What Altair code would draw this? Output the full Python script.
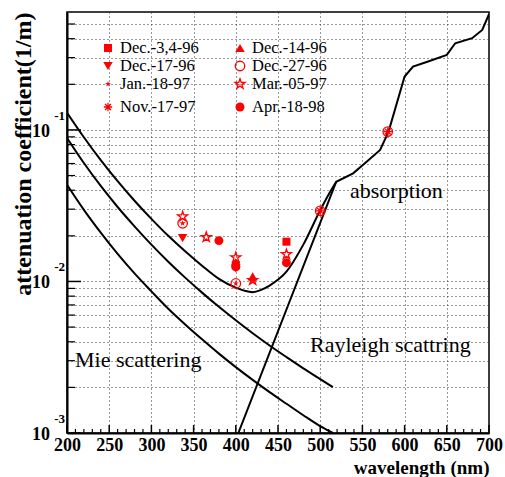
import altair as alt
import pandas as pd

# ---- curves (wavelength in nm, attenuation coefficient in 1/m) ----
wl_scat = [200, 220, 240, 260, 280, 300, 320, 340, 360, 380, 400, 420, 440, 460, 480, 500, 515]
rayleigh = [0.0886, 0.0605, 0.0427, 0.0310, 0.0231, 0.0175, 0.0135, 0.0106, 0.00844, 0.00680,
            0.00554, 0.00455, 0.00378, 0.00317, 0.00267, 0.00227, 0.00201]
mie = [0.0435, 0.0297, 0.0210, 0.0152, 0.0113, 0.0086, 0.0066, 0.0052, 0.00415, 0.00334,
       0.00272, 0.00224, 0.00186, 0.00156, 0.00131, 0.00111, 0.00100]

wl_total = [200, 220, 240, 260, 280, 300, 320, 340, 360, 380, 400, 410, 420, 430, 440, 460,
            480, 500, 510, 519]
total = [0.130, 0.0895, 0.0632, 0.0459, 0.0341, 0.0259, 0.0200, 0.0158, 0.0127, 0.0104,
         0.0091, 0.0087, 0.0085, 0.0088, 0.0094, 0.0116, 0.0175, 0.0295, 0.0375, 0.0455]

wl_abs = [403, 519, 539, 555, 571, 581, 600, 610, 627, 650, 660, 680, 692, 700]
absorption = [0.0010, 0.0455, 0.0517, 0.0617, 0.0738, 0.0975, 0.225, 0.262, 0.282, 0.313,
              0.373, 0.403, 0.457, 0.58]

# ---- measurements ----
dates = ["Dec.-3,4-96", "Dec.-14-96", "Dec.-17-96", "Dec.-27-96",
         "Jan.-18-97", "Mar.-05-97", "Nov.-17-97", "Apr.-18-98"]
dec0304_wl = [400, 460]
dec0304_k = [0.0128, 0.0183]
dec14_wl = [400, 420]
dec14_k = [0.0133, 0.0108]
dec17_wl = [337, 400]
dec17_k = [0.0193, 0.0122]
dec27_wl = [337, 400, 500, 580]
dec27_k = [0.0242, 0.0097, 0.0292, 0.0975]
jan18_wl = [337, 400, 420]
jan18_k = [0.0242, 0.0097, 0.0102]
mar05_wl = [337, 365, 400, 420, 460]
mar05_k = [0.0268, 0.0196, 0.0144, 0.0102, 0.0151]
nov17_wl = [500, 580]
nov17_k = [0.0292, 0.0975]
apr18_wl = [380, 400, 460]
apr18_k = [0.0186, 0.0125, 0.0133]

# ---- text ----
x_tick_labels = [200, 250, 300, 350, 400, 450, 500, 550, 600, 650, 700]
y_decades = [0.001, 0.01, 0.1]
y_exponents = ["-3", "-2", "-1"]
ann_text = ["absorption", "Rayleigh scattring", "Mie scattering"]
ann_wl = [535.3, 487.9, 209.5]
ann_k = [0.0356, 0.00343, 0.00273]

# ---- styling ----
RED = "#ff0000"
SERIF = "'Liberation Serif', 'Times New Roman', Times, serif"
STAR = ("M0,-1L0.2245,-0.309L0.9511,-0.309L0.3633,0.118L0.5878,0.809L0,0.382"
        "L-0.5878,0.809L-0.3633,0.118L-0.9511,-0.309L-0.2245,-0.309Z")
ASTER = "M-1,0L1,0M0,-1L0,1M-0.71,-0.71L0.71,0.71M-0.71,0.71L0.71,-0.71"
style = {
    "Dec.-3,4-96": ("square", True, 64),
    "Dec.-14-96": ("triangle-up", True, 90),
    "Dec.-17-96": ("triangle-down", True, 90),
    "Dec.-27-96": ("circle", False, 90),
    "Jan.-18-97": (STAR, True, 40),
    "Mar.-05-97": (STAR, False, 110),
    "Nov.-17-97": (ASTER, False, 70),
    "Apr.-18-98": ("circle", True, 80),
}
series = {
    "Dec.-3,4-96": (dec0304_wl, dec0304_k),
    "Dec.-14-96": (dec14_wl, dec14_k),
    "Dec.-17-96": (dec17_wl, dec17_k),
    "Dec.-27-96": (dec27_wl, dec27_k),
    "Jan.-18-97": (jan18_wl, jan18_k),
    "Mar.-05-97": (mar05_wl, mar05_k),
    "Nov.-17-97": (nov17_wl, nov17_k),
    "Apr.-18-98": (apr18_wl, apr18_k),
}

W, H = 422, 421

yt_major = y_decades
yt_minor = [m * 10 ** e for e in (-3, -2, -1) for m in range(2, 10) if m * 10 ** e < 0.59]
xt_major = list(range(200, 701, 50))
xt_minor = [v for v in range(200, 701, 10) if v % 50]

xscale = alt.Scale(domain=[200, 700], zero=False, nice=False)
yscale = alt.Scale(type="log", domain=[0.001, 0.6], nice=False)

xaxis = alt.Axis(values=x_tick_labels, format="d", labelFont=SERIF, labelFontWeight="bold",
                 labelFontSize=18, labelColor="black", labelPadding=3, tickSize=0,
                 labelOverlap=False, labelFlush=False,
                 domainColor="black", domainWidth=2, grid=True, gridColor="#333",
                 gridDash=[1, 3], gridWidth=1,
                 title="wavelength (nm)", titleFont=SERIF, titleFontWeight="bold",
                 titleFontSize=19, titleColor="black", titleX=W, titleY=40,
                 titleAlign="right", titleBaseline="alphabetic")
yaxis = alt.Axis(values=yt_major + yt_minor, labels=False, ticks=False,
                 domainColor="black", domainWidth=2, grid=True, gridColor="#333",
                 gridDash=[1, 3], gridWidth=1,
                 title="attenuation coefficient(1/m)", titleFont=SERIF,
                 titleFontWeight="bold", titleFontSize=24, titleColor="black",
                 titleAngle=270, titleX=-44, titleY=0, titleAlign="right",
                 titleBaseline="middle")

X = lambda f: alt.X(f, type="quantitative", scale=xscale, axis=xaxis)
Y = lambda f: alt.Y(f, type="quantitative", scale=yscale, axis=yaxis)


def curve(wl, k, interp):
    df = pd.DataFrame({"wl": wl, "k": k})
    return alt.Chart(df).mark_line(color="black", strokeWidth=2, interpolate=interp,
                                   clip=True).encode(x=X("wl"), y=Y("k"))


layers = []

# inner tick marks
layers.append(alt.Chart(pd.DataFrame({"t": yt_major})).mark_rule(color="black", strokeWidth=1.5)
              .encode(y=Y("t"), x=alt.value(0), x2=alt.value(14)))
layers.append(alt.Chart(pd.DataFrame({"t": yt_minor})).mark_rule(color="black", strokeWidth=1.2)
              .encode(y=Y("t"), x=alt.value(0), x2=alt.value(8)))
layers.append(alt.Chart(pd.DataFrame({"t": xt_major})).mark_rule(color="black", strokeWidth=1.5)
              .encode(x=X("t"), y=alt.value(H), y2=alt.value(H - 8)))
layers.append(alt.Chart(pd.DataFrame({"t": xt_minor})).mark_rule(color="black", strokeWidth=1.2)
              .encode(x=X("t"), y=alt.value(H), y2=alt.value(H - 4)))

# model curves
layers.append(curve(wl_scat, rayleigh, "monotone"))
layers.append(curve(wl_scat, mie, "monotone"))
layers.append(curve(wl_total, total, "monotone"))
layers.append(curve(wl_abs, absorption, "linear"))

# measurements
rows = []
for d in dates:
    shp, filled, size = style[d]
    for w, k in zip(*series[d]):
        rows.append({"date": d, "wl": w, "k": k, "shape": shp, "filled": filled, "size": size})
meas = pd.DataFrame(rows)
open_pts = meas[~meas["filled"]]
full_pts = meas[meas["filled"]]
layers.append(alt.Chart(full_pts).mark_point(filled=True, opacity=1, color=RED).encode(
    x=X("wl"), y=Y("k"), shape=alt.Shape("shape:N", scale=None),
    size=alt.Size("size:Q", scale=None)))
layers.append(alt.Chart(open_pts).mark_point(filled=False, opacity=1, color=RED,
                                             strokeWidth=1.3).encode(
    x=X("wl"), y=Y("k"), shape=alt.Shape("shape:N", scale=None),
    size=alt.Size("size:Q", scale=None)))

# y-axis labels as 10 with superscript exponent
ylab = pd.DataFrame({"k": y_decades, "e": y_exponents})
layers.append(alt.Chart(ylab).mark_text(text="10", font=SERIF, fontWeight="bold", fontSize=18,
                                        align="right", baseline="middle", dy=2, color="black")
              .encode(y=Y("k"), x=alt.value(-17)))
layers.append(alt.Chart(ylab).mark_text(font=SERIF, fontWeight="bold", fontSize=13,
                                        align="right", baseline="middle", dy=-14, color="black")
              .encode(y=Y("k"), x=alt.value(-2), text="e:N"))

# curve annotations
ann = pd.DataFrame({"t": ann_text, "wl": ann_wl, "k": ann_k})
layers.append(alt.Chart(ann).mark_text(font=SERIF, fontSize=22, align="left",
                                       baseline="alphabetic", color="black")
              .encode(x=X("wl"), y=Y("k"), text="t:N"))

# legend: two columns of four entries inside the frame
leg_cols = [dates[0::2], dates[1::2]]
leg_col_x = [41, 173]
leg_row_y = [36, 54, 72, 95]
one = alt.Data(values=[{}])
for ci, col in enumerate(leg_cols):
    for ri, d in enumerate(col):
        shp, filled, size = style[d]
        if filled:
            m = alt.Chart(one).mark_point(filled=True, opacity=1, color=RED, shape=shp, size=size)
        else:
            m = alt.Chart(one).mark_point(filled=False, opacity=1, color=RED, shape=shp,
                                          size=size, strokeWidth=1.3)
        layers.append(m.encode(x=alt.value(leg_col_x[ci]), y=alt.value(leg_row_y[ri])))
        layers.append(alt.Chart(one).mark_text(text=d, font=SERIF, fontSize=16.5, align="left",
                                               baseline="middle", color="black")
                      .encode(x=alt.value(leg_col_x[ci] + 12), y=alt.value(leg_row_y[ri])))

chart = alt.layer(*layers).properties(
    width=W, height=H, autosize="none",
    padding={"left": 67, "top": 12, "right": 16, "bottom": 44},
    background="white",
).configure_view(stroke="black", strokeWidth=1.5)

chart.save("out.html", embed_options={"renderer": "svg", "actions": False})
